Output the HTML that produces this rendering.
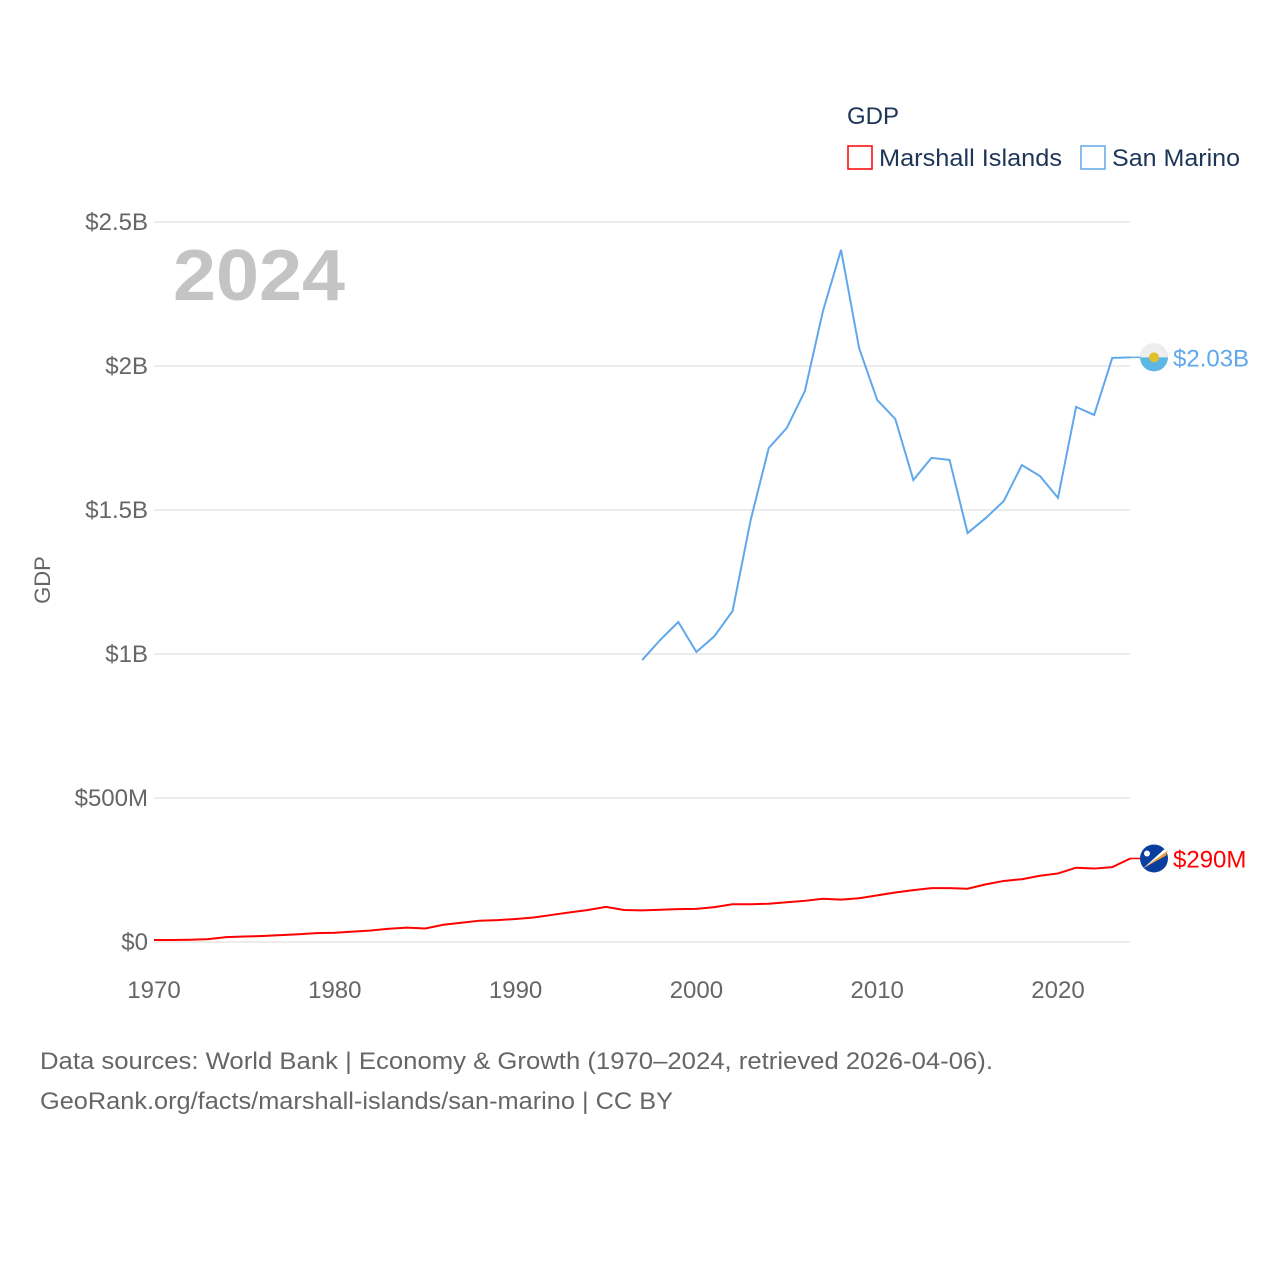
<!DOCTYPE html>
<html><head><meta charset="utf-8"><style>
body{margin:0;background:#fff;font-family:"Liberation Sans",sans-serif;}
svg text{font-family:"Liberation Sans",sans-serif;}
</style></head><body>
<svg width="1280" height="1280" viewBox="0 0 1280 1280" id="chart">
<rect width="1280" height="1280" fill="#fff"/>
<text x="847" y="124" font-size="24" fill="#1d3557">GDP</text>
<g><rect x="848" y="146" width="24" height="23" fill="none" stroke="#f00" stroke-width="1.5"/><text x="879" y="166" font-size="24" fill="#1d3557" textLength="183" lengthAdjust="spacingAndGlyphs">Marshall Islands</text></g>
<g><rect x="1081" y="146" width="24" height="23" fill="none" stroke="#5fa8ec" stroke-width="1.5"/><text x="1112" y="166" font-size="24" fill="#1d3557" textLength="128" lengthAdjust="spacingAndGlyphs">San Marino</text></g>
<text x="173" y="300" font-size="72" font-weight="bold" fill="#c4c4c4" textLength="172" lengthAdjust="spacingAndGlyphs">2024</text>
<text transform="translate(50,580) rotate(-90)" text-anchor="middle" font-size="22" fill="#666">GDP</text>
<g id="grid"></g><g id="series"></g>
<text x="40" y="1069" font-size="24" fill="#666" textLength="953" lengthAdjust="spacingAndGlyphs">Data sources: World Bank | Economy &amp; Growth (1970–2024, retrieved 2026-04-06).</text>
<text x="40" y="1109" font-size="24" fill="#666" textLength="633" lengthAdjust="spacingAndGlyphs">GeoRank.org/facts/marshall-islands/san-marino | CC BY</text>
</svg>
<script>
const yTicks=[0,0.5,1,1.5,2,2.5];
const yTickLabels=["$0","$500M","$1B","$1.5B","$2B","$2.5B"];
const xTicks=[1970,1980,1990,2000,2010,2020];
const smYears=[1997,1998,1999,2000,2001,2002,2003,2004,2005,2006,2007,2008,2009,2010,2011,2012,2013,2014,2015,2016,2017,2018,2019,2020,2021,2022,2023,2024];
const smValues=[0.979,1.049,1.111,1.007,1.062,1.149,1.465,1.715,1.785,1.913,2.191,2.403,2.062,1.882,1.816,1.604,1.681,1.674,1.42,1.472,1.531,1.656,1.618,1.542,1.858,1.83,2.028,2.03];
const miYears=[];for(let y=1970;y<=2024;y++)miYears.push(y);
const miValuesM=[7,7,8,10,17,19,21,24,27,31,32,36,40,46,50,47,60,67,74,76,80,85,94,103,111,122,111,110,112,114,115,121,131,131,133,138,143,150,147,152,162,172,180,187,187,185,200,212,218,230,238,258,255,260,290];
const NS="http://www.w3.org/2000/svg";
const xs=y=>154+(y-1970)*(1058-154)/50;
const ys=v=>942-v*288;
function mk(t,a,p){const e=document.createElementNS(NS,t);for(const k in a)e.setAttribute(k,a[k]);p.appendChild(e);return e;}
const grid=document.getElementById('grid'),ser=document.getElementById('series');
yTicks.forEach((v,i)=>{
 const l=mk('line',{x1:154,x2:1130,y1:ys(v),y2:ys(v),stroke:'#e6e6e6','stroke-width':1.5},grid);
 
 
 const t=mk('text',{x:148,y:ys(v)+8,'text-anchor':'end','font-size':24,fill:'#666'},grid);t.textContent=yTickLabels[i];
 
 
});
xTicks.forEach(y=>{
 const t=mk('text',{x:xs(y),y:998,'text-anchor':'middle','font-size':24,fill:'#666'},grid);t.textContent=y;
 
 
});
const mi=mk('polyline',{points:miYears.map((y,i)=>xs(y)+','+ys(miValuesM[i]/1000)).join(' '),fill:'none',stroke:'#f00','stroke-width':2},ser);


const sm=mk('polyline',{points:smYears.map((y,i)=>xs(y)+','+ys(smValues[i])).join(' '),fill:'none',stroke:'#5fa8ec','stroke-width':2},ser);


const smLast=ys(smValues[smValues.length-1]), miLast=ys(miValuesM[miValuesM.length-1]/1000);
mk('line',{x1:1130,x2:1142,y1:smLast,y2:smLast,stroke:'#5fa8ec','stroke-width':1.5},ser);
mk('line',{x1:1130,x2:1142,y1:miLast,y2:miLast,stroke:'#f00','stroke-width':1.5},ser);
const f1=mk('g',{},ser);


mk('circle',{cx:1154,cy:smLast,r:14,fill:'#5eb6e4'},f1);
mk('path',{d:`M1140 ${smLast} A14 14 0 0 1 1168 ${smLast} Z`,fill:'#eee'},f1);
mk('circle',{cx:1154,cy:smLast,r:5,fill:'#e3c02b'},f1);
const f2=mk('g',{},ser);


mk('circle',{cx:1154,cy:miLast,r:14,fill:'#0a3e9e'},f2);
mk('path',{d:`M1143 ${miLast+10} L1168 ${miLast-8} L1166 ${miLast-3} Z`,fill:'#f49c31'},f2);
mk('path',{d:`M1143 ${miLast+10} L1168 ${miLast-8} L1164 ${miLast-9} Z`,fill:'#fff'},f2);
mk('circle',{cx:1147,cy:miLast-5,r:3,fill:'#fff'},f2);
const l1=mk('text',{x:1173,y:smLast+9,'font-size':24,fill:'#5fa8ec'},ser);l1.textContent='$2.03B';


const l2=mk('text',{x:1173,y:miLast+9,'font-size':24,fill:'#f00'},ser);l2.textContent='$290M';


</script>
</body></html>
